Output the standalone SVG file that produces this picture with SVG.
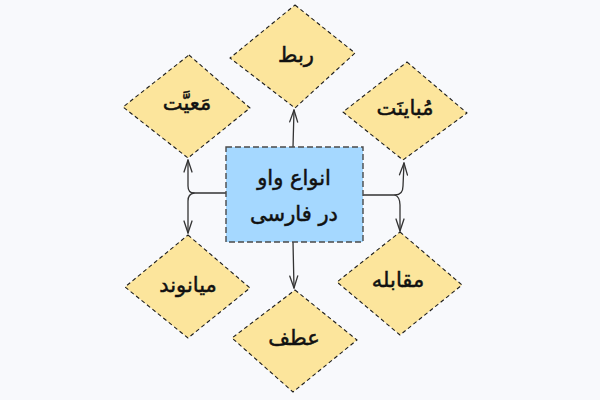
<svg xmlns="http://www.w3.org/2000/svg" width="600" height="400" viewBox="0 0 600 400">
<style>
.bg{fill:#f8f9fc}
.d{fill:#fce59c;stroke:#1e1e1e;stroke-width:1.1;stroke-dasharray:4 3;stroke-linejoin:round}
.r{fill:#a5d8ff;stroke:#4a4a4a;stroke-width:1.4;stroke-dasharray:6 3}
.t{font-family:"DejaVu Sans","Noto Sans",sans-serif;font-size:21px;fill:#111;stroke:#111;stroke-width:0.5;text-anchor:middle;dominant-baseline:central}
.c{fill:none;stroke:#333;stroke-width:1.3;stroke-linecap:round;stroke-linejoin:round}
</style>
<defs>
<marker id="ah" viewBox="0 0 14 10" refX="13" refY="5" markerWidth="14" markerHeight="10" markerUnits="userSpaceOnUse" orient="auto">
<path d="M1,1 L13,5 L1,9" fill="none" stroke="#333" stroke-width="1.3" stroke-linecap="round" stroke-linejoin="round"/>
</marker>
</defs>
<rect class="bg" x="0" y="0" width="600" height="400"/>
<g id="connectors">
<path class="c" d="M293,147 L294,110" marker-end="url(#ah)"/>
<path class="c" d="M293,242 L294,288" marker-end="url(#ah)"/>
<path class="c" d="M226,193 L194,193 Q188,193 188,186 L188,160" marker-end="url(#ah)"/>
<path class="c" d="M194,193 Q188,194 188,201 L188,233" marker-end="url(#ah)"/>
<path class="c" d="M363,195 L395,195 Q403,195 403,186 L404,163" marker-end="url(#ah)"/>
<path class="c" d="M395,195 Q400,197 400,205 L400,231" marker-end="url(#ah)"/>
</g>
<g id="center">
<rect class="r" x="226" y="147" width="137" height="95"/>
<text class="t" x="294" y="178">انواع واو</text>
<text class="t" x="294" y="214">در فارسی</text>
</g>
<g id="rabt">
<polygon class="d" points="295,5 355,53 295,108 230,58"/>
<text class="t" x="296" y="55">ربط</text>
</g>
<g id="maiyat">
<polygon class="d" points="189,55 250,108 188,158 123,107"/>
<text class="t" x="187" y="103">مَعیَّت</text>
</g>
<g id="mobayenat">
<polygon class="d" points="407,62 467,113 403,160 343,112"/>
<text class="t" x="405" y="108">مُباینَت</text>
</g>
<g id="miyanvand">
<polygon class="d" points="188,235 250,288 188,338 125,287"/>
<text class="t" x="188" y="285">میانوند</text>
</g>
<g id="moghabele">
<polygon class="d" points="400,232 462,285 400,335 337,282"/>
<text class="t" x="398" y="280">مقابله</text>
</g>
<g id="atf">
<polygon class="d" points="295,290 357,340 293,392 232,338"/>
<text class="t" x="294" y="338">عطف</text>
</g>
</svg>
